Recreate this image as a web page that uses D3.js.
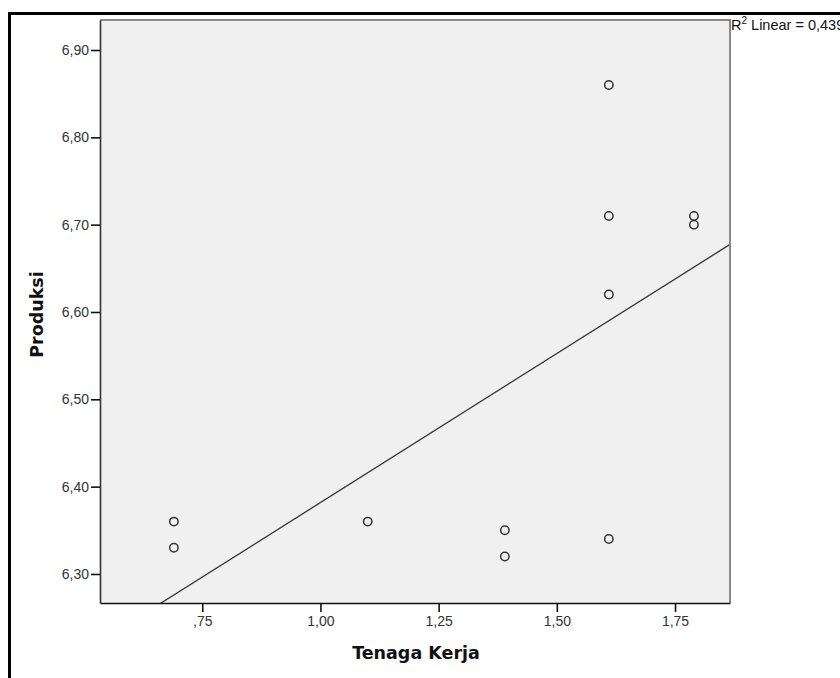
<!DOCTYPE html>
<html lang="id">
  <head>
    <meta charset="utf-8">
    <title>Produksi vs Tenaga Kerja</title>
    <script src="https://d3js.org/d3.v7.js"></script>
    <style>
    body {margin: 0; background: white;}
    .tick text {font-family: "Liberation Sans", Arial, sans-serif; font-size: 14px; fill: #333;}
    .axis-title {font-family: "DejaVu Sans", Verdana, sans-serif; font-weight: bold; font-size: 17.5px; fill: #111;}
    </style>
  </head>
  <body>
  <script>

  // observations (ln of workers, ln of production)
  var tenagaKerja = [0.69, 0.69, 1.10, 1.39, 1.39, 1.61, 1.61, 1.61, 1.61, 1.79, 1.79];
  var produksi    = [6.36, 6.33, 6.36, 6.35, 6.32, 6.34, 6.62, 6.71, 6.86, 6.71, 6.70];
  var xTicks = [0.75, 1.00, 1.25, 1.50, 1.75];
  var yTicks = [6.30, 6.40, 6.50, 6.60, 6.70, 6.80, 6.90];
  var r2Label = "0,439";

  var w = 840;
  var h = 678;
  var plot = {left: 100, top: 20, right: 730, bottom: 603};

  var data = tenagaKerja.map(function(x, i) { return {x: x, y: produksi[i]}; });

  var svg = d3.select("body")
      .append("svg")
      .attr("width", w)
      .attr("height", h);

  // outer frame (runs off the right and bottom edges)
  svg.append("line")
     .attr("x1", 8).attr("x2", w).attr("y1", 13.5).attr("y2", 13.5)
     .attr("stroke", "black").attr("stroke-width", 3);
  svg.append("line")
     .attr("x1", 9.5).attr("x2", 9.5).attr("y1", 12).attr("y2", h)
     .attr("stroke", "black").attr("stroke-width", 3);

  var xScale = d3.scaleLinear()
      .domain([0.75 - 102.3 / 473, 1.75 + 55 / 473])
      .range([plot.left, plot.right]);

  var yScale = d3.scaleLinear()
      .domain([6.90 - 553 / 873.3, 6.90 + 30 / 873.3])
      .range([plot.bottom, plot.top]);

  var fmt = function(v) {
    return d3.format(".2f")(v).replace(".", ",").replace(/^0/, "");
  };

  // plot background
  svg.append("rect")
     .attr("x", plot.left)
     .attr("y", plot.top)
     .attr("width", plot.right - plot.left)
     .attr("height", plot.bottom - plot.top)
     .attr("fill", "#f0f0f0");

  svg.append("clipPath")
     .attr("id", "plotclip")
     .append("rect")
     .attr("x", plot.left)
     .attr("y", plot.top)
     .attr("width", plot.right - plot.left)
     .attr("height", plot.bottom - plot.top);

  // least squares fit
  var mx = d3.mean(data, d => d.x);
  var my = d3.mean(data, d => d.y);
  var sxy = d3.sum(data, d => (d.x - mx) * (d.y - my));
  var sxx = d3.sum(data, d => (d.x - mx) * (d.x - mx));
  var slope = sxy / sxx;
  var intercept = my - slope * mx;
  var xd = xScale.domain();

  svg.append("line")
     .attr("clip-path", "url(#plotclip)")
     .attr("x1", xScale(xd[0]))
     .attr("y1", yScale(intercept + slope * xd[0]))
     .attr("x2", xScale(xd[1]))
     .attr("y2", yScale(intercept + slope * xd[1]))
     .attr("stroke", "#333")
     .attr("stroke-width", 1.3);

  // points
  svg.selectAll(".pt")
     .data(data)
     .join("circle")
     .attr("class", "pt")
     .attr("cx", d => xScale(d.x))
     .attr("cy", d => yScale(d.y))
     .attr("r", 4.2)
     .attr("fill", "none")
     .attr("stroke", "#333")
     .attr("stroke-width", 1.5);

  // plot frame: top/right grey, left/bottom dark
  svg.append("line")
     .attr("x1", plot.left).attr("x2", plot.right + 1)
     .attr("y1", plot.top).attr("y2", plot.top)
     .attr("stroke", "#888").attr("stroke-width", 2);
  svg.append("line")
     .attr("x1", plot.right).attr("x2", plot.right)
     .attr("y1", plot.top).attr("y2", plot.bottom)
     .attr("stroke", "#888").attr("stroke-width", 2);

  var xAxis = d3.axisBottom(xScale)
      .tickValues(xTicks)
      .tickFormat(fmt)
      .tickSize(9)
      .tickSizeOuter(0)
      .tickPadding(4);
  var gx = svg.append("g")
      .attr("transform", `translate(0, ${plot.bottom})`)
      .call(xAxis);
  gx.select(".domain").attr("stroke", "#111").attr("stroke-width", 1.6);
  gx.selectAll(".tick line").attr("stroke", "#111").attr("stroke-width", 1.6);

  var yAxis = d3.axisLeft(yScale)
      .tickValues(yTicks)
      .tickFormat(fmt)
      .tickSize(9)
      .tickSizeOuter(0)
      .tickPadding(2);
  var gy = svg.append("g")
      .attr("transform", `translate(${plot.left}, 0)`)
      .call(yAxis);
  gy.select(".domain").attr("stroke", "#333").attr("stroke-width", 1.6);
  gy.selectAll(".tick line").attr("stroke", "#111").attr("stroke-width", 1.6);

  // axis titles
  svg.append("text")
     .attr("class", "axis-title")
     .attr("text-anchor", "middle")
     .attr("x", (plot.left + plot.right) / 2 + 1)
     .attr("y", 659)
     .text("Tenaga Kerja");

  svg.append("text")
     .attr("class", "axis-title")
     .attr("text-anchor", "middle")
     .attr("transform", `translate(43, ${(plot.top + plot.bottom) / 2 + 3}) rotate(-90)`)
     .text("Produksi");

  // fit note
  var note = svg.append("text")
     .attr("x", plot.right + 1)
     .attr("y", 30)
     .attr("font-family", "Liberation Sans, Arial, sans-serif")
     .attr("font-size", "14.5px")
     .attr("fill", "#111");
  note.append("tspan").text("R");
  note.append("tspan").attr("dy", -6).attr("font-size", "10px").text("2");
  note.append("tspan").attr("dy", 6).text(" Linear = " + r2Label);

  </script>
  </body>
</html>
